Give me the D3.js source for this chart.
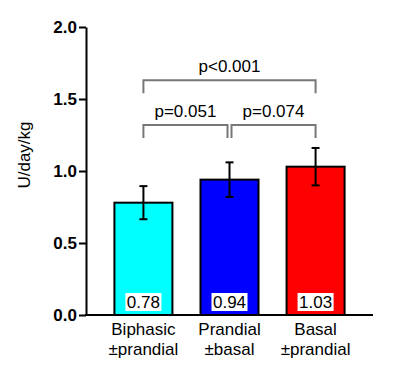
<!DOCTYPE html>
<html>
<head>
<meta charset="utf-8">
<script src="https://cdn.jsdelivr.net/npm/d3@7"></script>
<style>
    body { margin: 0; background: #fff; }
    svg { font-family: "Liberation Sans", Arial, Helvetica, sans-serif; }
</style>
</head>
<body>
<svg id="chart"></svg>
<script>
const categories = ['Biphasic', 'Prandial', 'Basal'];
const subLabels = ['±prandial', '±basal', '±prandial'];
const means = [0.78, 0.94, 1.03];
const errors = [0.115, 0.12, 0.13];
const barColors = ['#00ffff', '#0000ff', '#ff0000'];
const yTicks = [0, 0.5, 1.0, 1.5, 2.0];
const comparisons = [
    { from: 0, to: 2, level: 1.63, label: 'p<0.001' },
    { from: 0, to: 1, level: 1.32, label: 'p=0.051' },
    { from: 1, to: 2, level: 1.32, label: 'p=0.074' },
];

const WIDTH = 399;
const HEIGHT = 372;
const MARGIN = { top: 27, right: 26, bottom: 57, left: 86 };
const INNER_WIDTH = WIDTH - MARGIN.left - MARGIN.right;
const INNER_HEIGHT = HEIGHT - MARGIN.top - MARGIN.bottom;

const svg = d3.select('#chart')
    .attr('width', WIDTH)
    .attr('height', HEIGHT);

const g = svg.append('g')
    .attr('transform', 'translate(' + MARGIN.left + ',' + MARGIN.top + ')');

// scales
const xScale = d3.scaleBand()
    .domain(categories)
    .range([0, INNER_WIDTH])
    .paddingInner(0.326)
    .paddingOuter(0.33);
const yScale = d3.scaleLinear()
    .domain([0, 2])
    .range([INNER_HEIGHT, 0]);

// bars
g.selectAll('.bar')
    .data(categories)
    .join('rect')
    .attr('class', 'bar')
    .attr('x', d => xScale(d))
    .attr('y', (d, i) => yScale(means[i]))
    .attr('width', xScale.bandwidth())
    .attr('height', (d, i) => yScale(0) - yScale(means[i]))
    .attr('fill', (d, i) => barColors[i])
    .attr('stroke', '#000')
    .attr('stroke-width', 2);

// error bars
const cx = d => xScale(d) + xScale.bandwidth() / 2;
const err = g.selectAll('.err')
    .data(categories)
    .join('g')
    .attr('class', 'err')
    .attr('stroke', '#000')
    .attr('stroke-width', 2);
err.append('line')
    .attr('x1', d => cx(d)).attr('x2', d => cx(d))
    .attr('y1', (d, i) => yScale(means[i] + errors[i]))
    .attr('y2', (d, i) => yScale(means[i] - errors[i]));
err.append('line')
    .attr('x1', d => cx(d) - 4).attr('x2', d => cx(d) + 4)
    .attr('y1', (d, i) => yScale(means[i] + errors[i]))
    .attr('y2', (d, i) => yScale(means[i] + errors[i]));
err.append('line')
    .attr('x1', d => cx(d) - 4).attr('x2', d => cx(d) + 4)
    .attr('y1', (d, i) => yScale(means[i] - errors[i]))
    .attr('y2', (d, i) => yScale(means[i] - errors[i]));

// value labels with white box
const vl = g.selectAll('.val')
    .data(categories)
    .join('g')
    .attr('class', 'val');
vl.append('rect')
    .attr('x', d => cx(d) - 18)
    .attr('y', yScale(0) - 22)
    .attr('width', 36)
    .attr('height', 18)
    .attr('fill', '#fff');
vl.append('text')
    .attr('x', d => cx(d))
    .attr('y', yScale(0) - 7)
    .attr('text-anchor', 'middle')
    .attr('font-size', 17)
    .text((d, i) => means[i].toFixed(2));

// axes
const yAxis = d3.axisLeft(yScale)
    .tickValues(yTicks)
    .tickFormat(d3.format('.1f'))
    .tickSize(7)
    .tickSizeOuter(0)
    .tickPadding(2);
const yG = g.append('g').call(yAxis);
yG.selectAll('path, line').attr('stroke', '#000').attr('stroke-width', 2);
yG.selectAll('text')
    .attr('font-size', 17)
    .attr('font-weight', 'bold')
    .attr('fill', '#000')
    .attr('font-family', '"Liberation Sans", Arial, sans-serif');

g.append('line')
    .attr('x1', -1).attr('x2', INNER_WIDTH)
    .attr('y1', yScale(0)).attr('y2', yScale(0))
    .attr('stroke', '#000')
    .attr('stroke-width', 2);

// x labels
const xl = g.selectAll('.xlab')
    .data(categories)
    .join('text')
    .attr('class', 'xlab')
    .attr('text-anchor', 'middle')
    .attr('font-size', 17)
    .attr('x', d => cx(d));
xl.append('tspan')
    .attr('x', d => cx(d))
    .attr('y', yScale(0) + 20)
    .text(d => d);
xl.append('tspan')
    .attr('x', d => cx(d))
    .attr('y', yScale(0) + 40)
    .text((d, i) => subLabels[i]);

// y label
svg.append('text')
    .attr('transform', 'translate(30,155) rotate(-90)')
    .attr('text-anchor', 'middle')
    .attr('font-size', 17)
    .text('U/day/kg');

// comparison brackets
const br = g.selectAll('.bracket')
    .data(comparisons)
    .join('g')
    .attr('class', 'bracket');
const bx1 = d => cx(categories[d.from]) + (d.from === 1 ? 2 : 0);
const bx2 = d => cx(categories[d.to]) - (d.to === 1 ? 2 : 0);
br.append('path')
    .attr('d', d => {
        const y = yScale(d.level);
        return 'M' + bx1(d) + ',' + (y + 13) + 'V' + y + 'H' + bx2(d) + 'V' + (y + 13);
    })
    .attr('fill', 'none')
    .attr('stroke', '#777')
    .attr('stroke-width', 2);
br.append('text')
    .attr('x', d => (bx1(d) + bx2(d)) / 2)
    .attr('y', d => yScale(d.level) - 8)
    .attr('text-anchor', 'middle')
    .attr('font-size', 17)
    .text(d => d.label);
</script>
</body>
</html>
